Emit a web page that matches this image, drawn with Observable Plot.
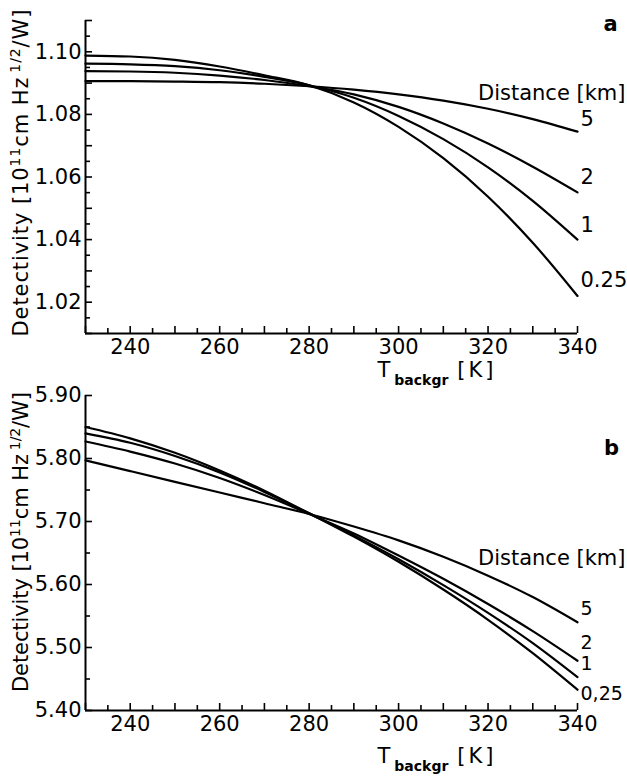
<!DOCTYPE html>
<html><head><meta charset="utf-8">
<script src="https://cdn.jsdelivr.net/npm/d3@7"></script>
<script src="https://cdn.jsdelivr.net/npm/@observablehq/plot@0.6"></script>
<style>
body{margin:0;background:#fff;}
#chart{width:627px;}
#chart svg{overflow:visible;display:block;}
</style></head><body><div id="chart"></div>
<script>
// ---- data ----
const temps = [230,240,250,260,270,280,290,300,310,320,330,340];
const distances = ["0.25","1","2","5"];
const distanceLabelsA = ["0.25","1","2","5"];
const distanceLabelsB = ["0,25","1","2","5"];
const detA_025 = [1.0988,1.0985,1.0974,1.0953,1.0925,1.0893,1.0838,1.0760,1.0660,1.0537,1.0390,1.0220];
const detA_1   = [1.0962,1.0960,1.0954,1.0941,1.0920,1.0893,1.0853,1.0795,1.0721,1.0631,1.0524,1.0400];
const detA_2   = [1.0938,1.0937,1.0933,1.0924,1.0910,1.0890,1.0864,1.0824,1.0771,1.0707,1.0633,1.0551];
const detA_5   = [1.0906,1.0906,1.0905,1.0903,1.0898,1.0890,1.0879,1.0864,1.0844,1.0818,1.0785,1.0745];
const detB_025 = [5.850,5.832,5.809,5.781,5.749,5.713,5.676,5.636,5.592,5.544,5.491,5.433];
const detB_1   = [5.840,5.825,5.804,5.778,5.747,5.713,5.678,5.640,5.599,5.555,5.507,5.453];
const detB_2   = [5.827,5.811,5.792,5.769,5.742,5.712,5.681,5.646,5.609,5.569,5.526,5.479];
const detB_5   = [5.797,5.780,5.763,5.746,5.729,5.712,5.692,5.670,5.644,5.614,5.580,5.540];
const xTickLabels = [240,260,280,300,320,340];
const yTickLabelsA = [1.02,1.04,1.06,1.08,1.10];
const yTickLabelsB = [5.40,5.50,5.60,5.70,5.80,5.90];
const legendTitle = "Distance [km]";

// ---- layout ----
const W = 627;
const font = "'DejaVu Sans', sans-serif";

function panel(cfg) {
  const rows = [];
  cfg.series.forEach((vals, k) => vals.forEach((v, i) => rows.push({T: temps[i], D: v, dist: distances[k]})));
  const [y0, y1] = cfg.yDomain;
  const [x0, x1] = [230, 340];
  const innerH = cfg.height - cfg.mt - cfg.mb;
  const innerW = W - cfg.ml - cfg.mr;
  const py = (y1 - y0) / innerH;   // data units per px (y)
  const px = (x1 - x0) / innerW;   // data units per px (x)
  const xMinor = d3.range(x0, x1 + 0.01, 5);
  const yMinor = d3.range(0, Math.round((y1 - y0) / cfg.yMinorStep) + 1).map(i => +(y0 + i * cfg.yMinorStep).toFixed(4));
  const isMajorX = t => t % 10 === 0;
  const isMajorY = v => Math.abs(v / cfg.yMajorStep - Math.round(v / cfg.yMajorStep)) < 1e-6;
  const ends = cfg.series.map((vals, k) => ({T: temps[temps.length - 1], D: vals[vals.length - 1], label: cfg.labels[k]}));
  const marks = [
    Plot.line(rows, {x: "T", y: "D", z: "dist", stroke: "black", strokeWidth: 2.2, curve: "monotone-x"}),
    Plot.ruleX([x0], {stroke: "black", strokeWidth: 2}),
    Plot.ruleY([y0], {stroke: "black", strokeWidth: 2}),
    Plot.ruleX(xMinor, {x: d => d, y1: y0, y2: d => y0 + (isMajorX(d) ? 7 : 5) * py, stroke: "black", strokeWidth: 1.6}),
    Plot.ruleY(yMinor, {y: d => d, x1: x0, x2: d => x0 + (isMajorY(d) ? 7 : 5) * px, stroke: "black", strokeWidth: 1.6}),
    Plot.axisX({ticks: xTickLabels, tickSize: 0, tickPadding: 6, label: null, tickFormat: d => String(d)}),
    Plot.axisY({ticks: cfg.yTicks, tickSize: 0, tickPadding: 4, label: null, tickFormat: d3.format(".2f")}),
    ...ends.map((e, k) => Plot.text([e], {x: "T", y: "D", text: "label", dx: 3, dy: cfg.labelDy[k], textAnchor: "start", fontSize: cfg.labelSize})),
    Plot.text([legendTitle], {frameAnchor: "top-right", dx: 48, dy: cfg.legendDy, textAnchor: "end", fontSize: 21}),
    Plot.text([cfg.tag], {frameAnchor: "top-right", dx: cfg.tagDx, dy: cfg.tagDy, textAnchor: "middle", fontSize: 21, fontWeight: "bold"})
  ];
  const svg = Plot.plot({
    width: W, height: cfg.height,
    marginLeft: cfg.ml, marginRight: cfg.mr, marginTop: cfg.mt, marginBottom: cfg.mb,
    x: {domain: [x0, x1], axis: null},
    y: {domain: cfg.yDomain, axis: null},
    style: {fontFamily: font, fontSize: "21px", color: "black", background: "transparent", overflow: "visible"},
    marks
  });
  // y axis title with superscripts
  const s = d3.select(svg);
  const yt = s.append("text")
    .attr("transform", `translate(28,${cfg.yTitleCy}) rotate(-90)`)
    .attr("text-anchor", "middle").attr("font-family", font).attr("font-size", 21).attr("fill", "black")
    .attr("textLength", cfg.yTitleLen).attr("lengthAdjust", "spacing");
  yt.append("tspan").text("Detectivity [10");
  yt.append("tspan").attr("dy", -8).attr("font-size", 14).text("11");
  yt.append("tspan").attr("dy", 8).text("cm Hz");
  yt.append("tspan").attr("dy", -8).attr("dx", 4).attr("font-size", 14).text("1/2");
  yt.append("tspan").attr("dy", 8).text("/W]");
  // x axis title
  const xt = s.append("text").attr("x", 437).attr("y", cfg.xTitleY)
    .attr("font-family", font).attr("font-size", 21).attr("fill", "black");
  xt.append("tspan").text("T");
  xt.append("tspan").attr("dx", 4).attr("dy", 8).attr("font-size", 14).attr("font-weight", "bold").text("backgr");
  xt.append("tspan").attr("dx", 9).attr("dy", -8).attr("letter-spacing", 3).text("[K]");
  return svg;
}

const chart = document.getElementById("chart");
chart.appendChild(panel({
  series: [detA_025, detA_1, detA_2, detA_5], labels: distanceLabelsA, labelSize: 21,
  yDomain: [1.01, 1.11], yTicks: yTickLabelsA, yMinorStep: 0.005, yMajorStep: 0.01,
  height: 388, mt: 20, mb: 55, ml: 85, mr: 50,
  labelDy: [-16, -14, -15, -12], legendDy: 65, tag: "a", tagDx: 33, tagDy: -4,
  yTitleCy: 173, yTitleLen: 327, xTitleY: 377
}));
chart.appendChild(panel({
  series: [detB_025, detB_1, detB_2, detB_5], labels: distanceLabelsB, labelSize: 19,
  yDomain: [5.40, 5.90], yTicks: yTickLabelsB, yMinorStep: 0.05, yMajorStep: 0.1,
  height: 389, mt: 7, mb: 67, ml: 85, mr: 50,
  labelDy: [4, -13, -18, -13], legendDy: 155, tag: "b", tagDx: 34, tagDy: 45,
  yTitleCy: 154, yTitleLen: 300, xTitleY: 375
}));
</script></body></html>
